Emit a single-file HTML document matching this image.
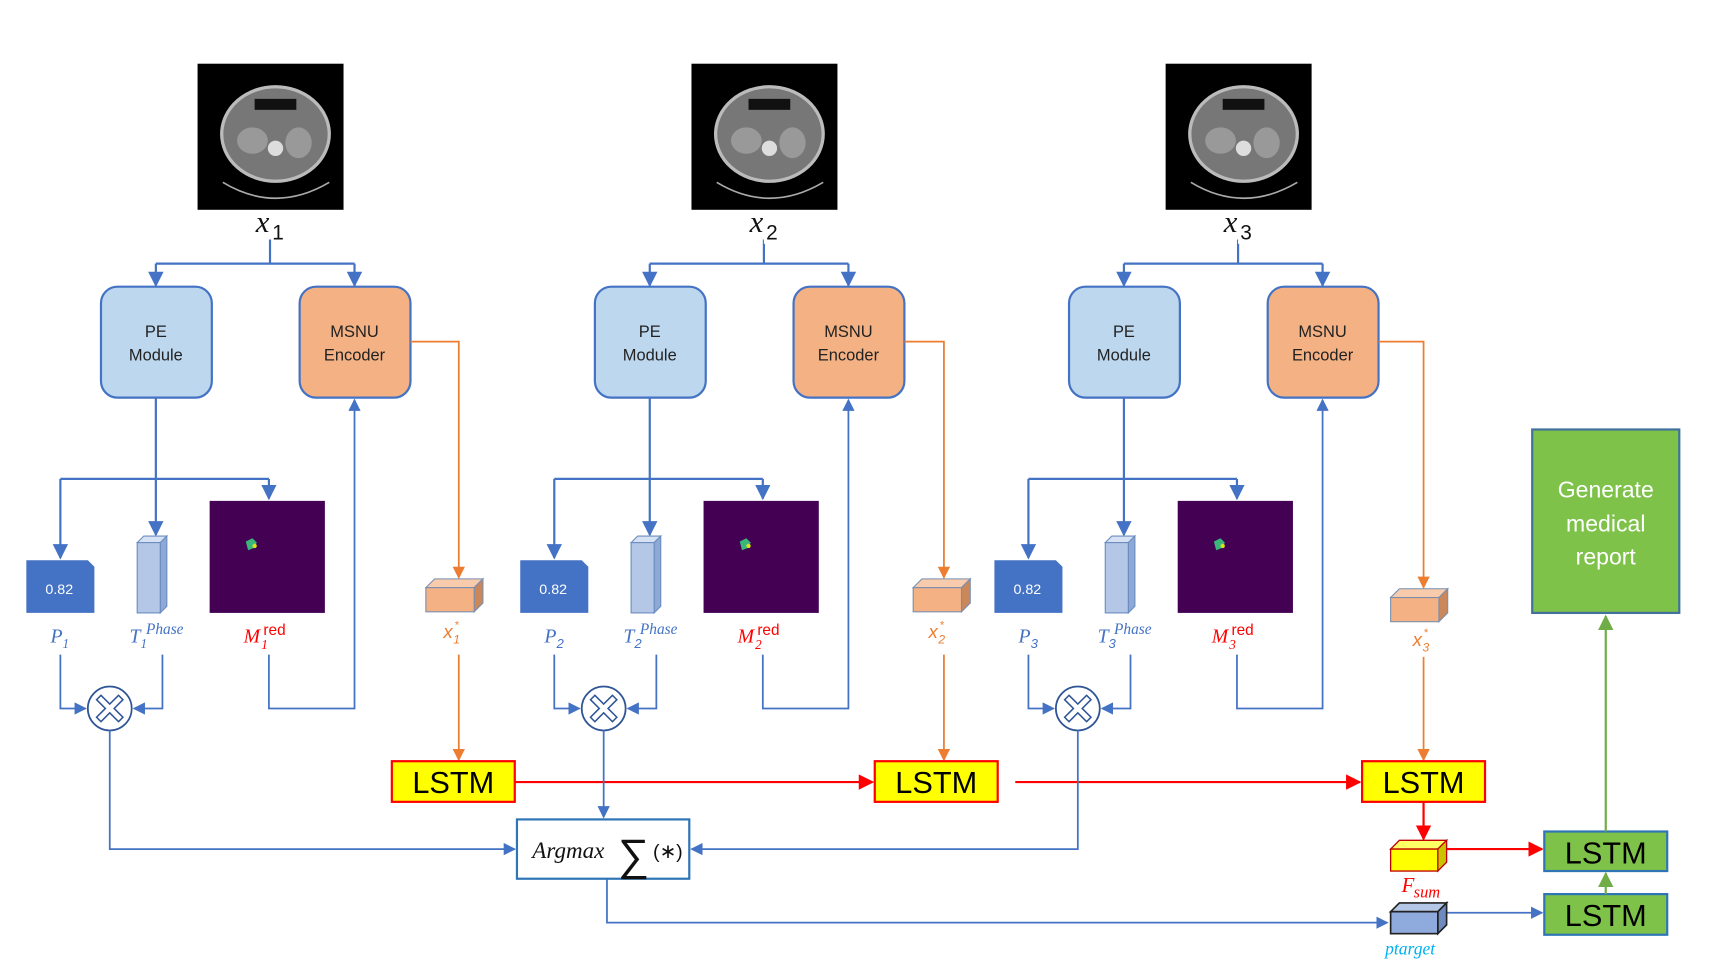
<!DOCTYPE html>
<html><head><meta charset="utf-8"><style>
html,body{margin:0;padding:0;background:#fff;}
svg{display:block}
text{font-family:"Liberation Sans",sans-serif}
.it{font-family:"Liberation Serif",serif;font-style:italic}
</style></head><body>
<svg width="1721" height="971" viewBox="0 0 1568 884" preserveAspectRatio="none" xmlns="http://www.w3.org/2000/svg">
<defs>
<marker id="ab" viewBox="0 0 10 10" refX="9" refY="5" markerWidth="7" markerHeight="7" orient="auto-start-reverse"><path d="M0,0L10,5L0,10z" fill="#4472c4"/></marker>
<marker id="ao" viewBox="0 0 10 10" refX="9" refY="5" markerWidth="7" markerHeight="7" orient="auto"><path d="M0,0L10,5L0,10z" fill="#ed7d31"/></marker>
<marker id="ar" viewBox="0 0 10 10" refX="9" refY="5" markerWidth="7" markerHeight="7" orient="auto"><path d="M0,0L10,5L0,10z" fill="#ff0000"/></marker>
<marker id="ag" viewBox="0 0 10 10" refX="9" refY="5" markerWidth="7" markerHeight="7" orient="auto"><path d="M0,0L10,5L0,10z" fill="#70ad47"/></marker>
<g id="col">
  <rect x="180" y="58" width="133" height="133" fill="#000"/>
  <ellipse cx="251" cy="122" rx="49" ry="43" fill="#777" stroke="#bbb" stroke-width="3"/>
  <rect x="232" y="90" width="38" height="10" fill="#111"/>
  <ellipse cx="230" cy="128" rx="14" ry="12" fill="#999"/>
  <ellipse cx="272" cy="130" rx="12" ry="14" fill="#999"/>
  <circle cx="251" cy="135" r="7" fill="#ddd"/>
  <path d="M203,166 Q251,195 300,166" stroke="#aaa" stroke-width="1.5" fill="none"/>
  <path d="M246,218V240M142,240H323" stroke="#4472c4" stroke-width="2" fill="none"/>
  <path d="M142,240V260" stroke="#4472c4" stroke-width="2" marker-end="url(#ab)"/>
  <path d="M323,240V260" stroke="#4472c4" stroke-width="2" marker-end="url(#ab)"/>
  <rect x="92" y="261" width="101" height="101" rx="15" fill="#bdd7ee" stroke="#4472c4" stroke-width="2"/>
  <text x="142" y="307" font-size="15" text-anchor="middle" fill="#222">PE</text>
  <text x="142" y="328" font-size="15" text-anchor="middle" fill="#222">Module</text>
  <rect x="273" y="261" width="101" height="101" rx="15" fill="#f4b183" stroke="#4472c4" stroke-width="2"/>
  <text x="323" y="307" font-size="15" text-anchor="middle" fill="#222">MSNU</text>
  <text x="323" y="328" font-size="15" text-anchor="middle" fill="#222">Encoder</text>
  <path d="M142,362V487" stroke="#4472c4" stroke-width="2" marker-end="url(#ab)"/>
  <path d="M55,436H245" stroke="#4472c4" stroke-width="2"/>
  <path d="M55,436V508" stroke="#4472c4" stroke-width="2" marker-end="url(#ab)"/>
  <path d="M245,436V454" stroke="#4472c4" stroke-width="2" marker-end="url(#ab)"/>
  <path d="M24,510H80L86,516V558H24z" fill="#4472c4"/>
  <text x="54" y="541" font-size="13" text-anchor="middle" fill="#fff">0.82</text>
  <path d="M125,494L131,488H152L146,494z" fill="#d6e2f3" stroke="#6a8cc0"/>
  <path d="M146,494L152,488V552L146,558z" fill="#8ea9d6" stroke="#6a8cc0"/>
  <rect x="125" y="494" width="21" height="64" fill="#b4c7e7" stroke="#6a8cc0"/>
  <rect x="191" y="456" width="105" height="102" fill="#440154"/>
  <path d="M224,493l6,-3l4,4l-3,5l-5,2z" fill="#3bb67a"/><circle cx="232" cy="497" r="2" fill="#d7e21a"/>
  <text x="46" y="585" font-size="18" class="it" fill="#4472c4">P</text><text x="57" y="590" font-size="12" class="it" fill="#4472c4">1</text>
  <text x="118" y="585" font-size="18" class="it" fill="#4472c4">T</text><text x="128" y="590" font-size="12" class="it" fill="#4472c4">1</text><text x="133" y="577" font-size="14" class="it" fill="#4472c4">Phase</text>
  <text x="222" y="585" font-size="18" class="it" fill="#ff0000">M</text><text x="238" y="591" font-size="12" class="it" fill="#ff0000">1</text><text x="240" y="578" font-size="14" font-family="Liberation Serif" fill="#ff0000">red</text>
  <path d="M55,596V645H78" stroke="#4472c4" stroke-width="1.6" fill="none" marker-end="url(#ab)"/>
  <path d="M148,596V645H122" stroke="#4472c4" stroke-width="1.6" fill="none" marker-end="url(#ab)"/>
  <circle cx="100" cy="645" r="20" fill="#fff" stroke="#2f5597" stroke-width="1.6"/>
  <path d="M92,633L100,641L108,633L112,637L104,645L112,653L108,657L100,649L92,657L88,653L96,645L88,637z" fill="#fff" stroke="#2f5597" stroke-width="1.4"/>
  <path d="M245,596V645H323V364" stroke="#4472c4" stroke-width="1.6" fill="none" marker-end="url(#ab)"/>
  <text x="233" y="211" font-size="28" class="it" fill="#111">x</text><text x="248" y="218" font-size="19" font-family="Liberation Serif" fill="#111">1</text>
</g>
</defs>
<use href="#col"/>
<use href="#col" x="450"/>
<use href="#col" x="882"/>
<g fill="#fff">
  <rect x="696" y="202" width="14" height="20"/><rect x="1128" y="202" width="14" height="20"/>
  <rect x="506" y="579" width="10" height="14"/><rect x="938" y="579" width="10" height="14"/>
  <rect x="577" y="579" width="8" height="14"/><rect x="1009" y="579" width="8" height="14"/>
  <rect x="687" y="581" width="8" height="14"/><rect x="1119" y="581" width="8" height="14"/>
</g>
<text x="698" y="218" font-size="19" font-family="Liberation Serif" fill="#111">2</text>
<text x="1130" y="218" font-size="19" font-family="Liberation Serif" fill="#111">3</text>
<g class="it" font-size="12" fill="#4472c4">
<text x="507" y="590">2</text><text x="939" y="590">3</text>
<text x="578" y="590">2</text><text x="1010" y="590">3</text>
</g>
<text x="688" y="591" font-size="12" class="it" fill="#ff0000">2</text>
<text x="1120" y="591" font-size="12" class="it" fill="#ff0000">3</text>

<g stroke="#ed7d31" stroke-width="1.6" fill="none">
<path d="M374,311H418V526" marker-end="url(#ao)"/>
<path d="M824,311H860V526" marker-end="url(#ao)"/>
<path d="M1256,311H1297V535" marker-end="url(#ao)"/>
<path d="M418,596V692" marker-end="url(#ao)"/>
<path d="M860,596V692" marker-end="url(#ao)"/>
<path d="M1297,598V692" marker-end="url(#ao)"/>
</g>
<g stroke="#7a8fb0" stroke-width="1">
<path d="M388,535l8,-8h44l-8,8z" fill="#f8cbad"/><path d="M432,535l8,-8v22l-8,8z" fill="#c9875a"/><rect x="388" y="535" width="44" height="22" fill="#f4b183"/>
<path d="M832,535l8,-8h44l-8,8z" fill="#f8cbad"/><path d="M876,535l8,-8v22l-8,8z" fill="#c9875a"/><rect x="832" y="535" width="44" height="22" fill="#f4b183"/>
<path d="M1267,544l8,-8h44l-8,8z" fill="#f8cbad"/><path d="M1311,544l8,-8v22l-8,8z" fill="#c9875a"/><rect x="1267" y="544" width="44" height="22" fill="#f4b183"/>
</g>
<g class="it" fill="#ed7d31">
<text x="404" y="581" font-size="17">x</text><text x="413" y="586" font-size="11">1</text><text x="414" y="572" font-size="10">*</text>
<text x="846" y="581" font-size="17">x</text><text x="855" y="586" font-size="11">2</text><text x="856" y="572" font-size="10">*</text>
<text x="1287" y="588" font-size="17">x</text><text x="1296" y="593" font-size="11">3</text><text x="1297" y="579" font-size="10">*</text>
</g>

<g font-size="28" text-anchor="middle" fill="#000">
<rect x="357" y="693" width="112" height="37" fill="#ffff00" stroke="#ff0000" stroke-width="2"/><text x="413" y="722">LSTM</text>
<rect x="797" y="693" width="112" height="37" fill="#ffff00" stroke="#ff0000" stroke-width="2"/><text x="853" y="722">LSTM</text>
<rect x="1241" y="693" width="112" height="37" fill="#ffff00" stroke="#ff0000" stroke-width="2"/><text x="1297" y="722">LSTM</text>
<rect x="1407" y="757" width="112" height="36" fill="#7ec24a" stroke="#2e75b6" stroke-width="2"/><text x="1463" y="786">LSTM</text>
<rect x="1407" y="814" width="112" height="37" fill="#7ec24a" stroke="#2e75b6" stroke-width="2"/><text x="1463" y="843">LSTM</text>
</g>
<g stroke="#ff0000" stroke-width="2" fill="none">
<path d="M469,712H795" marker-end="url(#ar)"/>
<path d="M925,712H1239" marker-end="url(#ar)"/>
<path d="M1297,730V764" marker-end="url(#ar)"/>
<path d="M1318,773H1405" marker-end="url(#ar)"/>
</g>
<g stroke="#4472c4" stroke-width="1.6" fill="none">
<path d="M100,665V773H469" marker-end="url(#ab)"/>
<path d="M550,665V744" marker-end="url(#ab)"/>
<path d="M982,665V773H630" marker-end="url(#ab)"/>
<path d="M553,800V840H1264" marker-end="url(#ab)"/>
<path d="M1318,831H1405" marker-end="url(#ab)"/>
</g>
<rect x="471" y="746" width="157" height="54" fill="#fff" stroke="#2e75b6" stroke-width="2"/>
<text x="485" y="781" font-size="21" class="it" fill="#111">Argmax</text>
<text x="563" y="792" font-size="40" font-family="Liberation Serif" fill="#111">∑</text>
<text x="595" y="781" font-size="18" font-family="Liberation Serif" fill="#111">(∗)</text>
<g stroke="#c00000" stroke-width="1.2">
<path d="M1267,773l8,-8h43l-8,8z" fill="#ffff66"/><path d="M1310,773l8,-8v20l-8,8z" fill="#c9c400"/><rect x="1267" y="773" width="43" height="20" fill="#ffff00"/>
</g>
<g stroke="#222" stroke-width="1.5">
<path d="M1267,830l8,-8h43l-8,8z" fill="#b4c7e7"/><path d="M1310,830l8,-8v20l-8,8z" fill="#6f8bbd"/><rect x="1267" y="830" width="43" height="20" fill="#8faadc"/>
</g>
<text x="1277" y="812" font-size="19" class="it" fill="#ff0000">F</text><text x="1288" y="817" font-size="15" class="it" fill="#ff0000">sum</text>
<text x="1262" y="869" font-size="16" class="it" fill="#00b0f0">ptarget</text>
<path d="M1463,814V795" stroke="#70ad47" stroke-width="2" marker-end="url(#ag)"/>
<path d="M1463,757V561" stroke="#70ad47" stroke-width="2" marker-end="url(#ag)"/>
<rect x="1396" y="391" width="134" height="167" fill="#7ec24a" stroke="#41719c" stroke-width="2"/>
<g font-size="21" fill="#fff" text-anchor="middle">
<text x="1463" y="453">Generate</text><text x="1463" y="484">medical</text><text x="1463" y="514">report</text>
</g>
</svg>
</body></html>
